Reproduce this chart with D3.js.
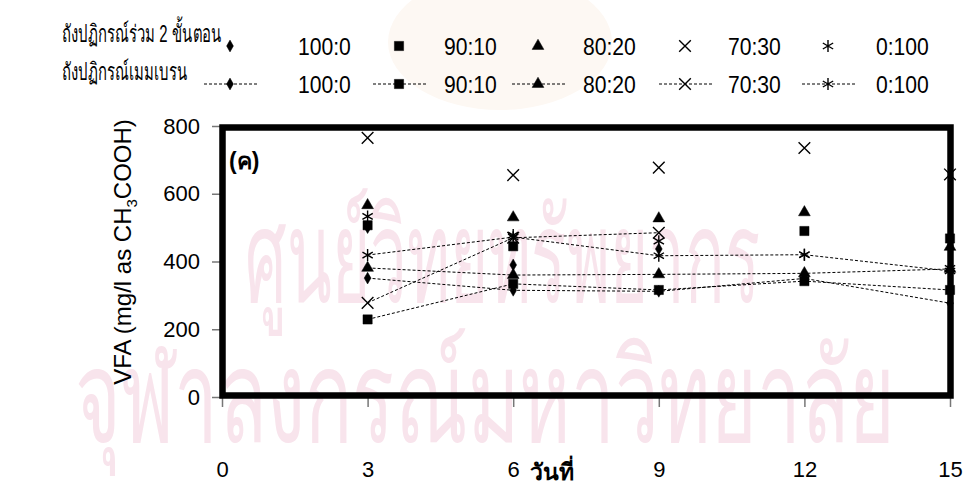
<!DOCTYPE html>
<html>
<head>
<meta charset="utf-8">
<script src="https://cdn.jsdelivr.net/npm/d3@7"></script>
<style>
  body { margin: 0; background: #fff; }
  svg { display: block; font-family: "Liberation Sans", Arial, sans-serif; }
</style>
</head>
<body>
<svg id="chart" width="965" height="491"></svg>
<script>
// days on the x axis
const days = [3, 6, 9, 12, 15];
const ratios = ["100:0", "90:10", "80:20", "70:30", "0:100"];
const yTicks = [0, 200, 400, 600, 800];
const xTicks = [0, 3, 6, 9, 12, 15];

// two stage reactor (markers only)
const twoStage100_0 = [500, 390, 437, null, null];
const twoStage90_10 = [507, 445, null, 490, 468];
const twoStage80_20 = [566, 530, 527, 545, 443];
const twoStage70_30 = [765, 655, 677, 735, 657];
const twoStage0_100 = [533, 478, 460, 420, 380];

// membrane reactor (dashed lines)
const membrane100_0 = [351, 315, 312, 350, 277];
const membrane90_10 = [229, 334, 316, 342, 316];
const membrane80_20 = [381, 360, 362, 365, 378];
const membrane70_30 = [278, 470, 485, null, null];
const membrane0_100 = [419, 472, 417, 420, 372];

const twoStage = [twoStage100_0, twoStage90_10, twoStage80_20, twoStage70_30, twoStage0_100];
const membrane = [membrane100_0, membrane90_10, membrane80_20, membrane70_30, membrane0_100];

const svg = d3.select("#chart");

// marker shapes, one per ratio
const shapes = [
  { type: d3.symbolDiamond, size: 40, fill: true },
  { type: d3.symbolSquare, size: 85, fill: true },
  { type: d3.symbolTriangle, size: 60, fill: true },
  { type: d3.symbolTimes, size: 90, fill: false },
  { type: d3.symbolAsterisk, size: 100, fill: false }
];

function drawMarker(g, i) {
  const s = shapes[i];
  g.append("path")
    .attr("d", d3.symbol().type(s.type).size(s.size)())
    .attr("fill", s.fill ? "#000" : "none")
    .attr("stroke", "#000")
    .attr("stroke-width", s.fill ? 0.5 : 1.4);
}

// faint watermark behind everything
const wm = svg.append("g").attr("fill", "#f8e4ec");
wm.append("ellipse").attr("cx", 500).attr("cy", 42).attr("rx", 112).attr("ry", 68).attr("fill", "#fdf8f3");
wm.append("text").attr("x", 245).attr("y", 302)
  .attr("font-size", 130).attr("textLength", 515).attr("lengthAdjust", "spacingAndGlyphs")
  .text("ศูนย์วิทยทรัพยากร");
wm.append("text").attr("x", 75).attr("y", 442)
  .attr("font-size", 130).attr("textLength", 820).attr("lengthAdjust", "spacingAndGlyphs")
  .text("จุฬาลงกรณ์มหาวิทยาลัย");

const x = d3.scaleLinear().domain([0, 15]).range([222, 950]);
const y = d3.scaleLinear().domain([0, 800]).range([397, 126]);

// axes
const yAxis = svg.append("g")
  .attr("transform", "translate(" + x(0) + ",0)")
  .call(d3.axisLeft(y).tickValues(yTicks).tickSize(10).tickPadding(12));
const xAxis = svg.append("g")
  .attr("transform", "translate(0," + y(0) + ")")
  .call(d3.axisBottom(x).tickValues(xTicks).tickSize(10).tickPadding(54));
[yAxis, xAxis].forEach(function (a) {
  a.select(".domain").remove();
  a.selectAll("line").attr("stroke", "#777").attr("stroke-width", 1.5);
  a.selectAll("text").attr("font-size", 22).attr("fill", "#000")
    .attr("font-family", "Liberation Sans, Arial, sans-serif");
});

// plot box
svg.append("rect")
  .attr("x", x(0) + 0.5)
  .attr("y", y(800) + 1.5)
  .attr("width", x(15) - x(0))
  .attr("height", y(0) - y(800) - 3)
  .attr("fill", "none")
  .attr("stroke", "#000")
  .attr("stroke-width", 6.5);

// membrane dashed lines
const line = d3.line()
  .defined(function (d) { return d.v != null; })
  .x(function (d) { return x(d.day); })
  .y(function (d) { return y(d.v); });

membrane.forEach(function (vals) {
  const pts = days.map(function (d, i) { return { day: d, v: vals[i] }; });
  svg.append("path")
    .attr("d", line(pts))
    .attr("fill", "none")
    .attr("stroke", "#000")
    .attr("stroke-width", 1)
    .attr("stroke-dasharray", "3,2");
});

// markers for both reactors
[twoStage, membrane].forEach(function (group) {
  group.forEach(function (vals, si) {
    vals.forEach(function (v, i) {
      if (v == null) return;
      const g = svg.append("g").attr("transform", "translate(" + x(days[i]) + "," + y(v) + ")");
      drawMarker(g, si);
    });
  });
});

// chart tag
svg.append("text").attr("x", 229).attr("y", 169)
  .attr("font-size", 23).attr("font-weight", "bold").text("(ค)");

// axis titles
const yt = svg.append("text")
  .attr("transform", "translate(131,252) rotate(-90)")
  .attr("text-anchor", "middle")
  .attr("font-size", 24);
yt.append("tspan").text("VFA (mg/l as CH");
yt.append("tspan").attr("font-size", 15).attr("dy", 6).text("3");
yt.append("tspan").attr("dy", -6).text("COOH)");

svg.append("text").attr("x", 552).attr("y", 480).attr("text-anchor", "middle")
  .attr("font-size", 23).attr("font-weight", "bold").text("วันที่");

// legend
const legendMarkX = [230, 399, 538, 685, 828];
const legendTextX = [298, 444, 583, 728, 876];
const legendRows = [
  { label: "ถังปฏิกรณ์ร่วม 2 ขั้นตอน", labelY: 42, y: 46, dashed: false },
  { label: "ถังปฏิกรณ์เมมเบรน", labelY: 80, y: 84, dashed: true }
];
legendRows.forEach(function (row) {
  svg.append("text")
    .attr("transform", "translate(62," + row.labelY + ") scale(0.62,1)")
    .attr("font-size", 24).text(row.label);
  ratios.forEach(function (r, i) {
    if (row.dashed) {
      svg.append("line")
        .attr("x1", legendMarkX[i] - 26).attr("x2", legendMarkX[i] + 28)
        .attr("y1", row.y).attr("y2", row.y)
        .attr("stroke", "#000").attr("stroke-width", 1)
        .attr("stroke-dasharray", "3,2");
    }
    const g = svg.append("g").attr("transform", "translate(" + legendMarkX[i] + "," + row.y + ")");
    drawMarker(g, i);
    svg.append("text")
      .attr("transform", "translate(" + legendTextX[i] + "," + (row.y + 9) + ") scale(0.88,1)")
      .attr("font-size", 24).text(r);
  });
});
</script>
</body>
</html>
